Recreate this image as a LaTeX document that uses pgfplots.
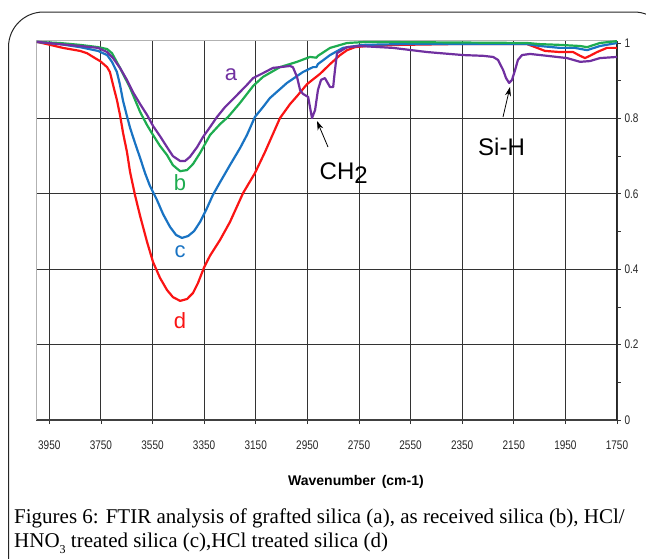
\documentclass[border=0pt]{standalone}
\usepackage{pgfplots}
\pgfplotsset{compat=1.18}
\usepackage{fontspec}
\setmainfont{Liberation Serif}
\newfontfamily\arial{Liberation Sans}
\usepackage{graphicx}
\usetikzlibrary{arrows.meta}
\definecolor{cA}{RGB}{112,48,160}
\definecolor{cB}{RGB}{30,172,80}
\definecolor{cC}{RGB}{25,115,195}
\definecolor{cD}{RGB}{250,20,20}
\newcommand\tl[1]{\scalebox{0.8}[1]{#1}}
\begin{document}
\begin{tikzpicture}[x=1pt,y=1pt]
\useasboundingbox (0,0) rectangle (646,-558);
\clip (0,0) rectangle (646,-558);
\draw[line width=1pt, black!85, rounded corners=35pt] (8.5,-640) -- (8.5,-12) -- (669,-12) -- (669,-640);
\begin{axis}[
  at={(36.4pt,-420pt)}, anchor=south west,
  scale only axis, width=580.6pt, height=379.5pt,
  xmin=1750, xmax=4000, ymin=0, ymax=1.0066,
  x dir=reverse, clip=false,
  axis x line*=bottom, axis y line*=right,
  x axis line style={-, line width=1.6pt, black!75},
  y axis line style={-, line width=1pt, black!85},
  xtick={1750,1950,2150,2350,2550,2750,2950,3150,3350,3550,3750,3950},
  xticklabels={\tl{1750},\tl{1950},\tl{2150},\tl{2350},\tl{2550},\tl{2750},\tl{2950},\tl{3150},\tl{3350},\tl{3550},\tl{3750},\tl{3950}},
  ytick={0,0.2,0.4,0.6,0.8},
  yticklabels={\tl{0},\tl{0.2},\tl{0.4},\tl{0.6},\tl{0.8}},
  extra y ticks={1}, extra y tick labels={\tl{1}}, extra y tick style={grid=none},
  minor ytick={0.1,0.3,0.5,0.7,0.9},
  ticklabel style={font=\arial\fontsize{12.5}{12.5}\selectfont, text=black!85},
  xticklabel style={yshift=-13pt},
  tick style={black!80, line width=0.8pt},
  major tick length=4pt, minor tick length=4pt, tick align=outside,
  grid=major, major grid style={black!80, line width=0.85pt},
]
\draw[black!30, line width=0.8pt] (axis cs:1750,1.0066) -- (axis cs:4000,1.0066) -- (axis cs:4000,0);
% d (red)
\addplot[cD, line width=2.2pt, line join=round] coordinates {
(3998,1.003)(3959,0.997)(3897,0.987)(3831,0.979)(3804,0.973)(3773,0.960)(3753,0.952)(3726,0.936)(3715,0.923)(3703,0.889)(3688,0.849)(3676,0.809)(3664,0.761)(3649,0.711)(3637,0.658)(3618,0.597)(3598,0.541)(3571,0.472)(3548,0.419)(3521,0.377)(3494,0.345)(3471,0.326)(3443,0.316)
(3416,0.321)(3393,0.337)(3374,0.363)(3350,0.405)(3327,0.436)(3288,0.478)(3250,0.525)(3199,0.602)(3153,0.655)(3114,0.711)(3056,0.801)(3017,0.838)(2990,0.859)(2951,0.891)(2901,0.918)(2862,0.944)(2823,0.968)(2796,0.981)(2765,0.989)(2719,0.992)(2591,0.995)(2398,0.997)(2098,0.997)(2067,0.989)(2029,0.979)(1971,0.976)(1920,0.976)(1893,0.966)(1874,0.960)(1855,0.966)(1827,0.976)(1789,0.987)(1750,0.987)
};
% c (blue)
\addplot[cC, line width=2.2pt, line join=round] coordinates {
(3998,1.003)(3909,0.997)(3831,0.989)(3761,0.979)(3726,0.968)(3707,0.950)(3688,0.923)(3676,0.889)(3664,0.846)(3649,0.806)(3637,0.775)(3618,0.735)(3598,0.695)(3579,0.655)(3560,0.621)(3533,0.584)(3509,0.546)(3482,0.512)(3459,0.491)(3436,0.483)
(3412,0.488)(3389,0.501)(3366,0.525)(3339,0.562)(3316,0.597)(3288,0.631)(3250,0.676)(3211,0.721)(3184,0.756)(3153,0.804)(3122,0.830)(3095,0.854)(3029,0.894)(2967,0.923)(2928,0.936)(2915,0.936)(2909,0.944)(2862,0.968)(2812,0.987)(2734,0.995)(2591,0.997)(2098,0.997)(2048,0.992)(1971,0.987)(1913,0.987)(1866,0.981)(1816,0.992)(1750,1.0)
};
% b (green)
\addplot[cB, line width=2.2pt, line join=round] coordinates {
(3998,1.003)(3909,1.0)(3831,0.995)(3761,0.989)(3726,0.984)(3707,0.973)(3676,0.934)(3637,0.881)(3598,0.817)(3571,0.782)(3548,0.756)(3521,0.727)(3494,0.703)(3471,0.676)(3443,0.660)
(3416,0.663)(3393,0.679)(3366,0.708)(3327,0.756)(3288,0.785)(3257,0.804)(3211,0.841)(3160,0.886)(3122,0.910)(3056,0.936)(2990,0.950)(2940,0.963)(2915,0.961)(2909,0.966)(2893,0.973)(2862,0.987)(2796,1.0)(2719,1.003)(2098,1.0)(2048,0.997)(1971,0.995)(1893,0.992)(1866,0.989)(1816,1.0)(1750,1.005)
};
% a (purple)
\addplot[cA, line width=2.2pt, line join=round] coordinates {
(3998,1.003)(3909,0.997)(3831,0.992)(3761,0.987)(3726,0.976)(3703,0.960)(3676,0.934)(3649,0.902)(3626,0.870)(3598,0.838)(3571,0.809)(3548,0.780)(3521,0.753)(3494,0.724)(3471,0.700)(3443,0.687)(3424,0.687)(3405,0.698)(3377,0.724)(3354,0.751)(3327,0.777)(3300,0.804)(3269,0.830)(3238,0.851)(3211,0.870)(3184,0.889)(3160,0.907)(3122,0.920)(3083,0.934)(3056,0.936)(3017,0.939)(3006,0.936)(2990,0.910)(2978,0.875)(2967,0.865)(2947,0.857)(2932,0.801)(2920,0.822)(2909,0.875)(2897,0.902)(2882,0.907)(2862,0.883)(2850,0.883)(2843,0.928)(2835,0.973)(2796,0.989)(2746,0.992)(2618,0.987)(2486,0.976)(2347,0.968)(2269,0.966)(2230,0.963)(2211,0.955)(2191,0.928)(2180,0.907)(2168,0.894)(2157,0.902)(2145,0.928)(2134,0.955)(2118,0.968)(2087,0.971)(2021,0.966)(1944,0.960)(1893,0.950)(1855,0.952)(1816,0.960)(1750,0.963)
};
\end{axis}
% curve labels
\node[text=cA, font=\arial\fontsize{22}{22}\selectfont] at (231,-75) {a};
\node[text=cB, font=\arial\fontsize{22}{22}\selectfont] at (180,-183) {b};
\node[text=cC, font=\arial\fontsize{22}{22}\selectfont] at (180,-252) {c};
\node[text=cD, font=\arial\fontsize{22}{22}\selectfont] at (180,-321) {d};
\node[anchor=base west, inner sep=0, font=\arial\fontsize{24}{24}\selectfont] at (319.5,-179) {CH\raisebox{-4pt}{2}};
\node[anchor=base west, inner sep=0, font=\arial\fontsize{24}{24}\selectfont] at (478,-155) {Si-H};
\draw[-{Stealth[length=9pt,width=6pt]}, line width=0.8pt] (328,-147) -- (317,-121);
\draw[-{Stealth[length=9pt,width=6pt]}, line width=0.8pt] (503,-117) -- (510,-87);
% x label
\node[font=\arial\bfseries\fontsize{14}{14}\selectfont] at (356,-482) {Wavenumber\, (cm-1)};
% caption
\node[anchor=base west, inner sep=0, font=\fontsize{21}{24}\selectfont] at (14,-523) {Figures 6: FTIR analysis of grafted silica (a), as received silica (b), HCl/};
\node[anchor=base west, inner sep=0, font=\fontsize{21}{24}\selectfont] at (14,-547) {HNO\raisebox{-6pt}{\fontsize{12}{12}\selectfont 3} treated silica (c),HCl treated silica (d)};
\end{tikzpicture}
\end{document}
